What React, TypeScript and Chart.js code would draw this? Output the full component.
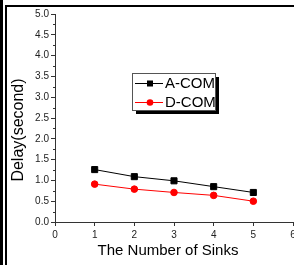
import React, { useEffect, useRef } from 'react';
import { Chart, registerables } from 'chart.js';

Chart.register(...registerables);

const sinks = [1, 2, 3, 4, 5];
const aCom = [1.26, 1.09, 0.99, 0.85, 0.71];
const dCom = [0.91, 0.79, 0.71, 0.64, 0.5];
const seriesLabels = ['A-COM', 'D-COM'];
const xTitle = 'The Number of Sinks';
const yTitle = 'Delay(second)';
const xRange = [0, 6];
const yRange = [0, 5];

const FONT = '"Liberation Sans", Arial, Helvetica, sans-serif';
const AXIS = '#333';

const extrasPlugin = {
  id: 'extras',
  afterDraw(chart: any) {
    const ctx = chart.ctx as CanvasRenderingContext2D;
    const ys = chart.scales.y;
    const area = chart.chartArea;
    ctx.save();
    // minor y ticks
    ctx.strokeStyle = AXIS;
    ctx.lineWidth = 1;
    for (let v = yRange[0] + 0.25; v < yRange[1]; v += 0.5) {
      const py = Math.round(ys.getPixelForValue(v)) + 0.5;
      ctx.beginPath();
      ctx.moveTo(area.left - 2, py);
      ctx.lineTo(area.left, py);
      ctx.stroke();
    }
    // axis titles
    ctx.fillStyle = '#000';
    ctx.textAlign = 'center';
    ctx.textBaseline = 'middle';
    ctx.font = `15px ${FONT}`;
    ctx.fillText(xTitle, 168, 251);
    ctx.save();
    ctx.translate(19, 130);
    ctx.rotate(-Math.PI / 2);
    ctx.font = `16px ${FONT}`;
    ctx.fillText(yTitle, 0, 0);
    ctx.restore();

    // legend
    const bx = 132, by = 73, bw = 83, bh = 37;
    ctx.fillStyle = '#000';
    ctx.fillRect(bx + 4, by + 4, bw, bh);
    ctx.fillStyle = '#fff';
    ctx.fillRect(bx, by, bw, bh);
    ctx.strokeStyle = '#555';
    ctx.lineWidth = 1;
    ctx.strokeRect(bx + 0.5, by + 0.5, bw, bh);
    const rows = [83, 102];
    chart.data.datasets.forEach((ds: any, i: number) => {
      const ry = rows[i] + 0.5;
      ctx.strokeStyle = ds.borderColor;
      ctx.lineWidth = 1;
      ctx.beginPath();
      ctx.moveTo(135, ry);
      ctx.lineTo(163, ry);
      ctx.stroke();
      ctx.fillStyle = ds.pointBackgroundColor;
      if (ds.pointStyle === 'rect') {
        ctx.fillRect(147, ry - 3, 6, 6);
      } else {
        ctx.beginPath();
        ctx.arc(150, ry, 3.3, 0, Math.PI * 2);
        ctx.fill();
      }
      ctx.fillStyle = '#000';
      ctx.textAlign = 'left';
      ctx.textBaseline = 'middle';
      ctx.font = `15px ${FONT}`;
      ctx.fillText(ds.label, 165, ry + 0.5);
    });
    ctx.restore();
  },
};

export default function App() {
  const ref = useRef<HTMLCanvasElement | null>(null);
  useEffect(() => {
    if (!ref.current) return;
    const chart = new Chart(ref.current, {
      type: 'line',
      data: {
        datasets: [
          {
            label: seriesLabels[0],
            data: sinks.map((x, i) => ({ x, y: aCom[i] })),
            borderColor: '#000',
            backgroundColor: '#000',
            pointBackgroundColor: '#000',
            pointBorderColor: '#000',
            pointStyle: 'rect',
            pointRadius: 4.3,
            borderWidth: 1,
            tension: 0,
          },
          {
            label: seriesLabels[1],
            data: sinks.map((x, i) => ({ x, y: dCom[i] })),
            borderColor: '#ff0000',
            backgroundColor: '#ff0000',
            pointBackgroundColor: '#ff0000',
            pointBorderColor: '#ff0000',
            pointStyle: 'circle',
            pointRadius: 3.3,
            borderWidth: 1,
            tension: 0,
          },
        ],
      },
      options: {
        animation: false,
        responsive: false,
        devicePixelRatio: 1,
        layout: { padding: { top: 14, right: 7, left: 0, bottom: 0 } },
        plugins: { legend: { display: false }, tooltip: { enabled: false } },
        scales: {
          x: {
            type: 'linear',
            min: xRange[0],
            max: xRange[1],
            afterFit: (s: any) => { s.height = 43; },
            grid: { drawOnChartArea: false, tickLength: 4, color: AXIS },
            border: { color: AXIS, width: 1 },
            ticks: { stepSize: 1, padding: 3, color: '#222', font: { family: FONT, size: 10 } },
          },
          y: {
            type: 'linear',
            min: yRange[0],
            max: yRange[1],
            afterFit: (s: any) => { s.width = 55; },
            grid: { drawOnChartArea: false, tickLength: 4, color: AXIS },
            border: { color: AXIS, width: 1 },
            ticks: {
              stepSize: 0.5,
              padding: 2,
              color: '#222',
              font: { family: FONT, size: 10 },
              callback: (v: any) => Number(v).toFixed(1),
            },
          },
        },
      },
      plugins: [extrasPlugin],
    });
    return () => chart.destroy();
  }, []);

  return (
    <div style={{ position: 'absolute', left: 0, top: 0, width: 294, height: 265, overflow: 'hidden', background: '#fff' }}>
      <canvas ref={ref} width={300} height={265} style={{ position: 'absolute', left: 0, top: 0 }} />
      <div style={{ position: 'absolute', left: 0, top: 0, width: 3, height: 265, background: '#000' }} />
      <div style={{ position: 'absolute', left: 5, top: 5, width: 2, height: 260, background: '#000' }} />
      <div style={{ position: 'absolute', left: 5, top: 5, width: 289, height: 2, background: '#000' }} />
    </div>
  );
}
